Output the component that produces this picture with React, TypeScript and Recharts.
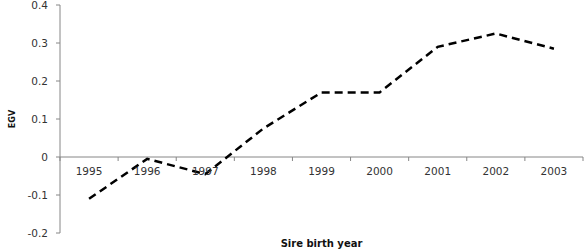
import { LineChart, Line, XAxis, YAxis, ReferenceLine } from "recharts";

const years = ["1995", "1996", "1997", "1998", "1999", "2000", "2001", "2002", "2003"];
const egv = [-0.11, -0.005, -0.045, 0.075, 0.17, 0.17, 0.29, 0.325, 0.285];
const yTicks = [-0.2, -0.1, 0, 0.1, 0.2, 0.3, 0.4];

const data = years.map((year, i) => ({ year, egv: egv[i] }));

const W = 586;
const H = 250;
const M = { top: 5, right: 3, left: 0, bottom: 0 };
const Y_W = 60;
const X_H = 17;
const PLOT_W = W - M.left - M.right - Y_W;
const PLOT_H = H - M.top - M.bottom - X_H;
const BW = PLOT_W / years.length;
// pixel row of the zero line (x axis sits there, as in Excel)
const Y0 = M.top + (0.4 / 0.6) * PLOT_H;

const AXIS = "#868686";
const FONT = "DejaVu Sans, Verdana, sans-serif";

const YearTick = ({ x, payload, index }: any) => { //eslint-disable-line
  const last = index === years.length - 1;
  return (
    <g>
      <text x={x} y={Y0 + 18} textAnchor="middle" fontSize={10.5} fill="#333" fontFamily={FONT}>
        {payload.value}
      </text>
      <line x1={x - BW / 2} y1={Y0} x2={x - BW / 2} y2={Y0 + 4} stroke={AXIS} />
      {last && <line x1={x + BW / 2} y1={Y0} x2={x + BW / 2} y2={Y0 + 4} stroke={AXIS} />}
    </g>
  );
};

export default function App() {
  return (
    <div style={{ position: "absolute", left: 0, top: 0 }}>
      <LineChart width={W} height={H} data={data} margin={M}>
        <XAxis
          dataKey="year"
          scale="band"
          height={X_H}
          axisLine={false}
          tickLine={false}
          tick={<YearTick />}
          interval={0}
          label={{
            value: "Sire birth year",
            position: "insideBottom",
            offset: 3,
            style: { fontSize: 10, fontWeight: "bold", fill: "#111", fontFamily: FONT },
          }}
        />
        <YAxis
          width={Y_W}
          domain={[-0.2, 0.4]}
          ticks={yTicks}
          tickFormatter={(v: number) => (v === 0 ? "0" : String(v))}
          tick={{ fontSize: 10.5, fill: "#333", fontFamily: FONT }}
          tickSize={4}
          tickMargin={8}
          stroke={AXIS}
          label={{
            value: "EGV",
            angle: -90,
            position: "center",
            dx: -18,
            style: { fontSize: 8, fontWeight: "bold", fill: "#111", fontFamily: FONT },
          }}
        />
        <ReferenceLine y={0} stroke={AXIS} />
        <Line
          type="linear"
          dataKey="egv"
          stroke="#000"
          strokeWidth={2.5}
          strokeDasharray="8 5"
          dot={false}
          isAnimationActive={false}
        />
      </LineChart>
    </div>
  );
}
